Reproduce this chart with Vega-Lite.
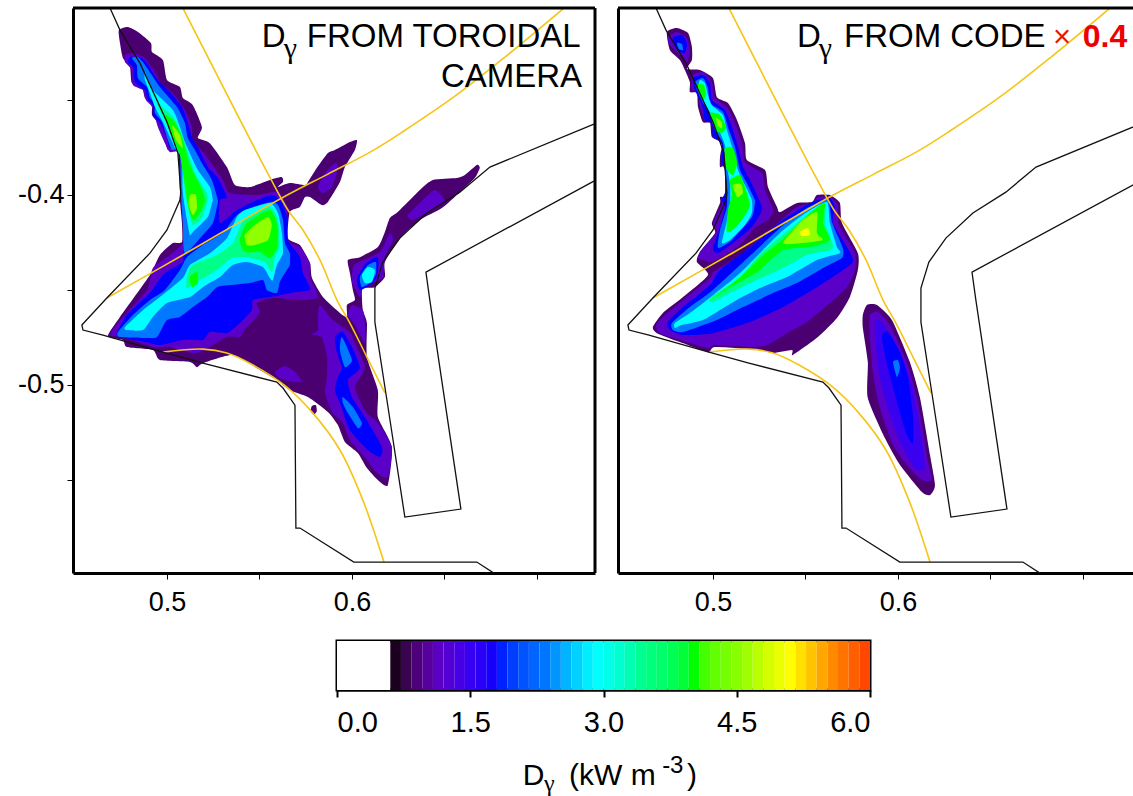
{"$schema":"https://vega.github.io/schema/vega-lite/v6.json","padding":{"left":17,"top":6,"right":0,"bottom":0},"background":"white","config":{"view":{"stroke":null},"font":"Liberation Sans","axis":{"grid":false,"title":null,"domainColor":"#000","domainWidth":3,"tickColor":"#000","tickWidth":1,"tickSize":6,"labelColor":"#000","labelFont":"Liberation Sans","labelFontSize":27,"labelPadding":10}},
"datasets":{
"left":[
{"part":"a","v":0.8,"r":0.474,"z":-0.3132},{"part":"a","v":0.8,"r":0.4789,"z":-0.3116},{"part":"a","v":0.8,"r":0.4843,"z":-0.3142},{"part":"a","v":0.8,"r":0.4913,"z":-0.32},{"part":"a","v":0.8,"r":0.4919,"z":-0.3248},{"part":"a","v":0.8,"r":0.4978,"z":-0.329},{"part":"a","v":0.8,"r":0.5,"z":-0.3395},{"part":"a","v":0.8,"r":0.507,"z":-0.3432},{"part":"a","v":0.8,"r":0.5086,"z":-0.349},{"part":"a","v":0.8,"r":0.514,"z":-0.3527},{"part":"a","v":0.8,"r":0.5189,"z":-0.3642},{"part":"a","v":0.8,"r":0.5167,"z":-0.37},{"part":"a","v":0.8,"r":0.5232,"z":-0.3727},{"part":"a","v":0.8,"r":0.5324,"z":-0.3853},{"part":"a","v":0.8,"r":0.5367,"z":-0.3948},{"part":"a","v":0.8,"r":0.5448,"z":-0.3958},{"part":"a","v":0.8,"r":0.5556,"z":-0.3921},{"part":"a","v":0.8,"r":0.5621,"z":-0.3906},{"part":"a","v":0.8,"r":0.5627,"z":-0.3932},{"part":"a","v":0.8,"r":0.56,"z":-0.3958},{"part":"a","v":0.8,"r":0.5664,"z":-0.3937},{"part":"a","v":0.8,"r":0.5746,"z":-0.3948},{"part":"a","v":0.8,"r":0.5762,"z":-0.3932},{"part":"a","v":0.8,"r":0.581,"z":-0.3858},{"part":"a","v":0.8,"r":0.587,"z":-0.3779},{"part":"a","v":0.8,"r":0.5908,"z":-0.3763},{"part":"a","v":0.8,"r":0.5989,"z":-0.3721},{"part":"a","v":0.8,"r":0.6027,"z":-0.3711},{"part":"a","v":0.8,"r":0.6016,"z":-0.3763},{"part":"a","v":0.8,"r":0.5962,"z":-0.3853},{"part":"a","v":0.8,"r":0.5935,"z":-0.3932},{"part":"a","v":0.8,"r":0.587,"z":-0.4037},{"part":"a","v":0.8,"r":0.5837,"z":-0.4053},{"part":"a","v":0.8,"r":0.5773,"z":-0.4011},{"part":"a","v":0.8,"r":0.5746,"z":-0.4011},{"part":"a","v":0.8,"r":0.5719,"z":-0.4063},{"part":"a","v":0.8,"r":0.5664,"z":-0.409},{"part":"a","v":0.8,"r":0.5654,"z":-0.4227},{"part":"a","v":0.8,"r":0.5719,"z":-0.4263},{"part":"a","v":0.8,"r":0.5773,"z":-0.4358},{"part":"a","v":0.8,"r":0.5784,"z":-0.4437},{"part":"a","v":0.8,"r":0.5843,"z":-0.4537},{"part":"a","v":0.8,"r":0.5935,"z":-0.4621},{"part":"a","v":0.8,"r":0.5973,"z":-0.4642},{"part":"a","v":0.8,"r":0.5973,"z":-0.4579},{"part":"a","v":0.8,"r":0.6016,"z":-0.4553},{"part":"a","v":0.8,"r":0.6005,"z":-0.45},{"part":"a","v":0.8,"r":0.5989,"z":-0.4411},{"part":"a","v":0.8,"r":0.5978,"z":-0.4342},{"part":"a","v":0.8,"r":0.6043,"z":-0.4327},{"part":"a","v":0.8,"r":0.614,"z":-0.4274},{"part":"a","v":0.8,"r":0.6178,"z":-0.4195},{"part":"a","v":0.8,"r":0.6205,"z":-0.4121},{"part":"a","v":0.8,"r":0.6248,"z":-0.409},{"part":"a","v":0.8,"r":0.6367,"z":-0.3974},{"part":"a","v":0.8,"r":0.6437,"z":-0.3921},{"part":"a","v":0.8,"r":0.6567,"z":-0.3911},{"part":"a","v":0.8,"r":0.661,"z":-0.3895},{"part":"a","v":0.8,"r":0.6675,"z":-0.3842},{"part":"a","v":0.8,"r":0.6691,"z":-0.3858},{"part":"a","v":0.8,"r":0.6664,"z":-0.3911},{"part":"a","v":0.8,"r":0.6583,"z":-0.3985},{"part":"a","v":0.8,"r":0.6486,"z":-0.4069},{"part":"a","v":0.8,"r":0.6367,"z":-0.4132},{"part":"a","v":0.8,"r":0.6259,"z":-0.4227},{"part":"a","v":0.8,"r":0.6178,"z":-0.4353},{"part":"a","v":0.8,"r":0.6178,"z":-0.4432},{"part":"a","v":0.8,"r":0.6124,"z":-0.4485},{"part":"a","v":0.8,"r":0.6059,"z":-0.449},{"part":"a","v":0.8,"r":0.6054,"z":-0.4537},{"part":"a","v":0.8,"r":0.6059,"z":-0.4606},{"part":"a","v":0.8,"r":0.6081,"z":-0.4674},{"part":"a","v":0.8,"r":0.6081,"z":-0.4853},{"part":"a","v":0.8,"r":0.614,"z":-0.5027},{"part":"a","v":0.8,"r":0.614,"z":-0.5169},{"part":"a","v":0.8,"r":0.6216,"z":-0.5327},{"part":"a","v":0.8,"r":0.6194,"z":-0.5527},{"part":"a","v":0.8,"r":0.614,"z":-0.55},{"part":"a","v":0.8,"r":0.6081,"z":-0.5437},{"part":"a","v":0.8,"r":0.6032,"z":-0.5358},{"part":"a","v":0.8,"r":0.5962,"z":-0.53},{"part":"a","v":0.8,"r":0.5924,"z":-0.5211},{"part":"a","v":0.8,"r":0.587,"z":-0.5142},{"part":"a","v":0.8,"r":0.5762,"z":-0.5063},{"part":"a","v":0.8,"r":0.5664,"z":-0.5027},{"part":"a","v":0.8,"r":0.5594,"z":-0.4974},{"part":"a","v":0.8,"r":0.5502,"z":-0.4921},{"part":"a","v":0.8,"r":0.5356,"z":-0.4842},{"part":"a","v":0.8,"r":0.5194,"z":-0.4885},{"part":"a","v":0.8,"r":0.5162,"z":-0.4906},{"part":"a","v":0.8,"r":0.5124,"z":-0.4879},{"part":"a","v":0.8,"r":0.4962,"z":-0.4869},{"part":"a","v":0.8,"r":0.4924,"z":-0.4816},{"part":"a","v":0.8,"r":0.4783,"z":-0.48},{"part":"a","v":0.8,"r":0.4762,"z":-0.4763},{"part":"a","v":0.8,"r":0.4681,"z":-0.4742},{"part":"a","v":0.8,"r":0.4746,"z":-0.4642},{"part":"a","v":0.8,"r":0.4908,"z":-0.4421},{"part":"a","v":0.8,"r":0.4962,"z":-0.4316},{"part":"a","v":0.8,"r":0.5032,"z":-0.4253},{"part":"a","v":0.8,"r":0.5081,"z":-0.4248},{"part":"a","v":0.8,"r":0.5081,"z":-0.4148},{"part":"a","v":0.8,"r":0.507,"z":-0.4027},{"part":"a","v":0.8,"r":0.507,"z":-0.3974},{"part":"a","v":0.8,"r":0.5059,"z":-0.3779},{"part":"a","v":0.8,"r":0.5005,"z":-0.3763},{"part":"a","v":0.8,"r":0.4989,"z":-0.3711},{"part":"a","v":0.8,"r":0.4951,"z":-0.3621},{"part":"a","v":0.8,"r":0.4919,"z":-0.3579},{"part":"a","v":0.8,"r":0.4919,"z":-0.3516},{"part":"a","v":0.8,"r":0.4881,"z":-0.349},{"part":"a","v":0.8,"r":0.4865,"z":-0.3432},{"part":"a","v":0.8,"r":0.481,"z":-0.3411},{"part":"a","v":0.8,"r":0.48,"z":-0.3327},{"part":"a","v":0.8,"r":0.4762,"z":-0.3279},{"part":"a","v":0.8,"r":0.4746,"z":-0.32},
{"part":"i","v":0.8,"r":0.5783,"z":-0.5111},{"part":"i","v":0.8,"r":0.5805,"z":-0.5106},{"part":"i","v":0.8,"r":0.581,"z":-0.5137},{"part":"i","v":0.8,"r":0.5794,"z":-0.5158},{"part":"i","v":0.8,"r":0.5778,"z":-0.5137},
{"part":"b","v":1.1,"r":0.4773,"z":-0.3263},{"part":"b","v":1.1,"r":0.4816,"z":-0.3253},{"part":"b","v":1.1,"r":0.4881,"z":-0.3279},{"part":"b","v":1.1,"r":0.4946,"z":-0.3369},{"part":"b","v":1.1,"r":0.4962,"z":-0.3406},{"part":"b","v":1.1,"r":0.5032,"z":-0.3463},{"part":"b","v":1.1,"r":0.5097,"z":-0.3553},{"part":"b","v":1.1,"r":0.5135,"z":-0.3642},{"part":"b","v":1.1,"r":0.514,"z":-0.3711},{"part":"b","v":1.1,"r":0.5216,"z":-0.38},{"part":"b","v":1.1,"r":0.5302,"z":-0.3921},{"part":"b","v":1.1,"r":0.534,"z":-0.399},{"part":"b","v":1.1,"r":0.5486,"z":-0.4},{"part":"b","v":1.1,"r":0.5573,"z":-0.3984},{"part":"b","v":1.1,"r":0.561,"z":-0.399},{"part":"b","v":1.1,"r":0.5648,"z":-0.4063},{"part":"b","v":1.1,"r":0.5654,"z":-0.4237},{"part":"b","v":1.1,"r":0.5719,"z":-0.4274},{"part":"b","v":1.1,"r":0.5773,"z":-0.4358},{"part":"b","v":1.1,"r":0.5773,"z":-0.4432},{"part":"b","v":1.1,"r":0.5816,"z":-0.4537},{"part":"b","v":1.1,"r":0.5735,"z":-0.4553},{"part":"b","v":1.1,"r":0.5573,"z":-0.4542},{"part":"b","v":1.1,"r":0.5486,"z":-0.4569},{"part":"b","v":1.1,"r":0.5502,"z":-0.4621},{"part":"b","v":1.1,"r":0.5432,"z":-0.4695},{"part":"b","v":1.1,"r":0.5394,"z":-0.4748},{"part":"b","v":1.1,"r":0.5324,"z":-0.4748},{"part":"b","v":1.1,"r":0.5162,"z":-0.4832},{"part":"b","v":1.1,"r":0.5016,"z":-0.48},{"part":"b","v":1.1,"r":0.4924,"z":-0.48},{"part":"b","v":1.1,"r":0.4762,"z":-0.4748},{"part":"b","v":1.1,"r":0.4692,"z":-0.4737},{"part":"b","v":1.1,"r":0.4756,"z":-0.4648},{"part":"b","v":1.1,"r":0.4892,"z":-0.45},{"part":"b","v":1.1,"r":0.4924,"z":-0.4384},{"part":"b","v":1.1,"r":0.5016,"z":-0.4316},{"part":"b","v":1.1,"r":0.5086,"z":-0.4253},{"part":"b","v":1.1,"r":0.5086,"z":-0.4148},{"part":"b","v":1.1,"r":0.5075,"z":-0.3974},{"part":"b","v":1.1,"r":0.507,"z":-0.3779},{"part":"b","v":1.1,"r":0.5016,"z":-0.3774},{"part":"b","v":1.1,"r":0.4989,"z":-0.3727},{"part":"b","v":1.1,"r":0.4951,"z":-0.3642},{"part":"b","v":1.1,"r":0.4919,"z":-0.3537},{"part":"b","v":1.1,"r":0.4886,"z":-0.35},{"part":"b","v":1.1,"r":0.487,"z":-0.3448},{"part":"b","v":1.1,"r":0.4816,"z":-0.3421},{"part":"b","v":1.1,"r":0.481,"z":-0.3342},{"part":"b","v":1.1,"r":0.4773,"z":-0.33},
{"part":"c","v":1.1,"r":0.5827,"z":-0.4579},{"part":"c","v":1.1,"r":0.5897,"z":-0.4658},{"part":"c","v":1.1,"r":0.5989,"z":-0.4721},{"part":"c","v":1.1,"r":0.6016,"z":-0.4779},{"part":"c","v":1.1,"r":0.607,"z":-0.4906},{"part":"c","v":1.1,"r":0.6016,"z":-0.5011},{"part":"c","v":1.1,"r":0.6043,"z":-0.5079},{"part":"c","v":1.1,"r":0.6081,"z":-0.5148},{"part":"c","v":1.1,"r":0.614,"z":-0.52},{"part":"c","v":1.1,"r":0.6216,"z":-0.5327},{"part":"c","v":1.1,"r":0.6194,"z":-0.5485},{"part":"c","v":1.1,"r":0.6135,"z":-0.5463},{"part":"c","v":1.1,"r":0.6081,"z":-0.5395},{"part":"c","v":1.1,"r":0.5989,"z":-0.529},{"part":"c","v":1.1,"r":0.5951,"z":-0.52},{"part":"c","v":1.1,"r":0.5897,"z":-0.5148},{"part":"c","v":1.1,"r":0.5854,"z":-0.5042},{"part":"c","v":1.1,"r":0.5865,"z":-0.4958},{"part":"c","v":1.1,"r":0.5865,"z":-0.4853},{"part":"c","v":1.1,"r":0.5837,"z":-0.4748},{"part":"c","v":1.1,"r":0.5783,"z":-0.4737},{"part":"c","v":1.1,"r":0.5816,"z":-0.4711},{"part":"c","v":1.1,"r":0.5816,"z":-0.4642},
{"part":"d","v":1.1,"r":0.6,"z":-0.4579},{"part":"d","v":1.1,"r":0.6059,"z":-0.4606},{"part":"d","v":1.1,"r":0.607,"z":-0.4674},{"part":"d","v":1.1,"r":0.607,"z":-0.4779},{"part":"d","v":1.1,"r":0.6016,"z":-0.4684},{"part":"d","v":1.1,"r":0.5978,"z":-0.4632},
{"part":"e","v":1.1,"r":0.5583,"z":-0.4932},{"part":"e","v":1.1,"r":0.5638,"z":-0.49},{"part":"e","v":1.1,"r":0.5692,"z":-0.4932},{"part":"e","v":1.1,"r":0.5729,"z":-0.4985},{"part":"e","v":1.1,"r":0.5664,"z":-0.4979},{"part":"e","v":1.1,"r":0.561,"z":-0.4963},
{"part":"f","v":1.1,"r":0.5816,"z":-0.3958},{"part":"f","v":1.1,"r":0.5854,"z":-0.3885},{"part":"f","v":1.1,"r":0.5908,"z":-0.3832},{"part":"f","v":1.1,"r":0.5924,"z":-0.3858},{"part":"f","v":1.1,"r":0.5892,"z":-0.3958},{"part":"f","v":1.1,"r":0.5843,"z":-0.399},
{"part":"g","v":1.1,"r":0.6302,"z":-0.4106},{"part":"g","v":1.1,"r":0.6367,"z":-0.4042},{"part":"g","v":1.1,"r":0.6448,"z":-0.3974},{"part":"g","v":1.1,"r":0.6502,"z":-0.4037},{"part":"g","v":1.1,"r":0.6383,"z":-0.4106},{"part":"g","v":1.1,"r":0.6324,"z":-0.4132},
{"part":"h","v":1.1,"r":0.6027,"z":-0.4358},{"part":"h","v":1.1,"r":0.6151,"z":-0.43},{"part":"h","v":1.1,"r":0.6205,"z":-0.42},{"part":"h","v":1.1,"r":0.6221,"z":-0.4237},{"part":"h","v":1.1,"r":0.6178,"z":-0.4327},{"part":"h","v":1.1,"r":0.6167,"z":-0.4432},{"part":"h","v":1.1,"r":0.6124,"z":-0.4458},{"part":"h","v":1.1,"r":0.6059,"z":-0.449},{"part":"h","v":1.1,"r":0.6043,"z":-0.4537},{"part":"h","v":1.1,"r":0.6,"z":-0.4458},{"part":"h","v":1.1,"r":0.6005,"z":-0.4379},
{"part":"j","v":1.74,"r":0.48,"z":-0.3274},{"part":"j","v":1.74,"r":0.4854,"z":-0.3274},{"part":"j","v":1.74,"r":0.4892,"z":-0.3306},{"part":"j","v":1.74,"r":0.4951,"z":-0.3395},{"part":"j","v":1.74,"r":0.5016,"z":-0.3458},{"part":"j","v":1.74,"r":0.5081,"z":-0.3537},{"part":"j","v":1.74,"r":0.5113,"z":-0.3621},{"part":"j","v":1.74,"r":0.5135,"z":-0.3695},{"part":"j","v":1.74,"r":0.5167,"z":-0.3748},{"part":"j","v":1.74,"r":0.5221,"z":-0.3853},{"part":"j","v":1.74,"r":0.5275,"z":-0.3911},{"part":"j","v":1.74,"r":0.5324,"z":-0.4011},{"part":"j","v":1.74,"r":0.5286,"z":-0.4027},{"part":"j","v":1.74,"r":0.5286,"z":-0.4148},{"part":"j","v":1.74,"r":0.5378,"z":-0.4079},{"part":"j","v":1.74,"r":0.5486,"z":-0.4027},{"part":"j","v":1.74,"r":0.5573,"z":-0.4},{"part":"j","v":1.74,"r":0.5621,"z":-0.4042},{"part":"j","v":1.74,"r":0.5648,"z":-0.4116},{"part":"j","v":1.74,"r":0.5654,"z":-0.4237},{"part":"j","v":1.74,"r":0.5719,"z":-0.4327},{"part":"j","v":1.74,"r":0.5735,"z":-0.4411},{"part":"j","v":1.74,"r":0.5762,"z":-0.4463},{"part":"j","v":1.74,"r":0.5773,"z":-0.45},{"part":"j","v":1.74,"r":0.5702,"z":-0.4511},{"part":"j","v":1.74,"r":0.561,"z":-0.4527},{"part":"j","v":1.74,"r":0.5556,"z":-0.4537},{"part":"j","v":1.74,"r":0.5465,"z":-0.4553},{"part":"j","v":1.74,"r":0.5459,"z":-0.4606},{"part":"j","v":1.74,"r":0.5394,"z":-0.4674},{"part":"j","v":1.74,"r":0.5324,"z":-0.4727},{"part":"j","v":1.74,"r":0.5232,"z":-0.4721},{"part":"j","v":1.74,"r":0.5194,"z":-0.4763},{"part":"j","v":1.74,"r":0.5086,"z":-0.4763},{"part":"j","v":1.74,"r":0.4962,"z":-0.479},{"part":"j","v":1.74,"r":0.4881,"z":-0.4774},{"part":"j","v":1.74,"r":0.4746,"z":-0.4748},{"part":"j","v":1.74,"r":0.4729,"z":-0.4727},{"part":"j","v":1.74,"r":0.4783,"z":-0.4632},{"part":"j","v":1.74,"r":0.4908,"z":-0.4516},{"part":"j","v":1.74,"r":0.4978,"z":-0.4421},{"part":"j","v":1.74,"r":0.5086,"z":-0.4353},{"part":"j","v":1.74,"r":0.5086,"z":-0.4306},{"part":"j","v":1.74,"r":0.5108,"z":-0.4253},{"part":"j","v":1.74,"r":0.5097,"z":-0.4148},{"part":"j","v":1.74,"r":0.5086,"z":-0.3974},{"part":"j","v":1.74,"r":0.507,"z":-0.3779},{"part":"j","v":1.74,"r":0.5016,"z":-0.3753},{"part":"j","v":1.74,"r":0.5,"z":-0.37},{"part":"j","v":1.74,"r":0.4962,"z":-0.3621},{"part":"j","v":1.74,"r":0.4924,"z":-0.3579},{"part":"j","v":1.74,"r":0.4924,"z":-0.3527},{"part":"j","v":1.74,"r":0.4897,"z":-0.35},{"part":"j","v":1.74,"r":0.4881,"z":-0.3448},{"part":"j","v":1.74,"r":0.4827,"z":-0.3406},{"part":"j","v":1.74,"r":0.4816,"z":-0.3327},{"part":"j","v":1.74,"r":0.4789,"z":-0.33},
{"part":"k","v":1.74,"r":0.5908,"z":-0.4748},{"part":"k","v":1.74,"r":0.5951,"z":-0.4721},{"part":"k","v":1.74,"r":0.6,"z":-0.48},{"part":"k","v":1.74,"r":0.6043,"z":-0.4911},{"part":"k","v":1.74,"r":0.5978,"z":-0.4974},{"part":"k","v":1.74,"r":0.6,"z":-0.5063},{"part":"k","v":1.74,"r":0.607,"z":-0.5169},{"part":"k","v":1.74,"r":0.6162,"z":-0.5327},{"part":"k","v":1.74,"r":0.6151,"z":-0.5379},{"part":"k","v":1.74,"r":0.6086,"z":-0.5342},{"part":"k","v":1.74,"r":0.5989,"z":-0.5237},{"part":"k","v":1.74,"r":0.5935,"z":-0.5095},{"part":"k","v":1.74,"r":0.5908,"z":-0.5027},{"part":"k","v":1.74,"r":0.5924,"z":-0.4958},{"part":"k","v":1.74,"r":0.5946,"z":-0.4911},{"part":"k","v":1.74,"r":0.5919,"z":-0.4832},
{"part":"l","v":1.74,"r":0.6027,"z":-0.4437},{"part":"l","v":1.74,"r":0.6081,"z":-0.4353},{"part":"l","v":1.74,"r":0.614,"z":-0.4327},{"part":"l","v":1.74,"r":0.614,"z":-0.4411},{"part":"l","v":1.74,"r":0.6113,"z":-0.4463},{"part":"l","v":1.74,"r":0.6043,"z":-0.45},
{"part":"m","v":2.3,"r":0.481,"z":-0.3279},{"part":"m","v":2.3,"r":0.4843,"z":-0.3274},{"part":"m","v":2.3,"r":0.4881,"z":-0.3316},{"part":"m","v":2.3,"r":0.4962,"z":-0.3432},{"part":"m","v":2.3,"r":0.5054,"z":-0.3537},{"part":"m","v":2.3,"r":0.5097,"z":-0.3621},{"part":"m","v":2.3,"r":0.5113,"z":-0.37},{"part":"m","v":2.3,"r":0.5151,"z":-0.3763},{"part":"m","v":2.3,"r":0.5189,"z":-0.3832},{"part":"m","v":2.3,"r":0.5243,"z":-0.3921},{"part":"m","v":2.3,"r":0.5275,"z":-0.4027},{"part":"m","v":2.3,"r":0.527,"z":-0.4063},{"part":"m","v":2.3,"r":0.5248,"z":-0.4148},{"part":"m","v":2.3,"r":0.5194,"z":-0.4211},{"part":"m","v":2.3,"r":0.5097,"z":-0.4306},{"part":"m","v":2.3,"r":0.5086,"z":-0.4148},{"part":"m","v":2.3,"r":0.5075,"z":-0.3974},{"part":"m","v":2.3,"r":0.507,"z":-0.3763},{"part":"m","v":2.3,"r":0.5027,"z":-0.3763},{"part":"m","v":2.3,"r":0.5005,"z":-0.3711},{"part":"m","v":2.3,"r":0.4973,"z":-0.3616},{"part":"m","v":2.3,"r":0.4935,"z":-0.3569},{"part":"m","v":2.3,"r":0.4935,"z":-0.3516},{"part":"m","v":2.3,"r":0.4908,"z":-0.349},{"part":"m","v":2.3,"r":0.4892,"z":-0.3432},{"part":"m","v":2.3,"r":0.4843,"z":-0.3385},{"part":"m","v":2.3,"r":0.4837,"z":-0.3316},
{"part":"n","v":2.3,"r":0.5356,"z":-0.4132},{"part":"n","v":2.3,"r":0.5394,"z":-0.4095},{"part":"n","v":2.3,"r":0.5556,"z":-0.4037},{"part":"n","v":2.3,"r":0.56,"z":-0.4053},{"part":"n","v":2.3,"r":0.5627,"z":-0.4132},{"part":"n","v":2.3,"r":0.5638,"z":-0.4253},{"part":"n","v":2.3,"r":0.5664,"z":-0.4306},{"part":"n","v":2.3,"r":0.5664,"z":-0.4369},{"part":"n","v":2.3,"r":0.5638,"z":-0.4411},{"part":"n","v":2.3,"r":0.561,"z":-0.4458},{"part":"n","v":2.3,"r":0.5594,"z":-0.4516},{"part":"n","v":2.3,"r":0.554,"z":-0.45},{"part":"n","v":2.3,"r":0.5519,"z":-0.4448},{"part":"n","v":2.3,"r":0.5448,"z":-0.4463},{"part":"n","v":2.3,"r":0.534,"z":-0.4474},{"part":"n","v":2.3,"r":0.527,"z":-0.4485},{"part":"n","v":2.3,"r":0.5216,"z":-0.4537},{"part":"n","v":2.3,"r":0.514,"z":-0.459},{"part":"n","v":2.3,"r":0.507,"z":-0.4642},{"part":"n","v":2.3,"r":0.5,"z":-0.4658},{"part":"n","v":2.3,"r":0.4946,"z":-0.4748},{"part":"n","v":2.3,"r":0.4892,"z":-0.4753},{"part":"n","v":2.3,"r":0.4746,"z":-0.4748},{"part":"n","v":2.3,"r":0.4735,"z":-0.4721},{"part":"n","v":2.3,"r":0.4816,"z":-0.4632},{"part":"n","v":2.3,"r":0.4908,"z":-0.4553},{"part":"n","v":2.3,"r":0.4989,"z":-0.45},{"part":"n","v":2.3,"r":0.507,"z":-0.4395},{"part":"n","v":2.3,"r":0.5108,"z":-0.4327},{"part":"n","v":2.3,"r":0.5194,"z":-0.4263},{"part":"n","v":2.3,"r":0.5302,"z":-0.42},
{"part":"o","v":2.3,"r":0.5946,"z":-0.4748},{"part":"o","v":2.3,"r":0.6,"z":-0.4869},{"part":"o","v":2.3,"r":0.5962,"z":-0.4906},{"part":"o","v":2.3,"r":0.5935,"z":-0.4816},
{"part":"p","v":2.3,"r":0.5951,"z":-0.5063},{"part":"p","v":2.3,"r":0.6005,"z":-0.5116},{"part":"p","v":2.3,"r":0.6054,"z":-0.52},{"part":"p","v":2.3,"r":0.6032,"z":-0.5227},{"part":"p","v":2.3,"r":0.5978,"z":-0.5148},{"part":"p","v":2.3,"r":0.5951,"z":-0.5095},
{"part":"l2","v":2.3,"r":0.6043,"z":-0.4432},{"part":"l2","v":2.3,"r":0.6086,"z":-0.4369},{"part":"l2","v":2.3,"r":0.6129,"z":-0.4353},{"part":"l2","v":2.3,"r":0.6129,"z":-0.4416},{"part":"l2","v":2.3,"r":0.6102,"z":-0.4458},{"part":"l2","v":2.3,"r":0.6054,"z":-0.4485},
{"part":"l3","v":2.85,"r":0.6054,"z":-0.4421},{"part":"l3","v":2.85,"r":0.6086,"z":-0.4379},{"part":"l3","v":2.85,"r":0.6124,"z":-0.4395},{"part":"l3","v":2.85,"r":0.6108,"z":-0.4458},{"part":"l3","v":2.85,"r":0.607,"z":-0.4463},
{"part":"q","v":2.85,"r":0.4881,"z":-0.3353},{"part":"q","v":2.85,"r":0.4924,"z":-0.3448},{"part":"q","v":2.85,"r":0.5032,"z":-0.3553},{"part":"q","v":2.85,"r":0.507,"z":-0.3642},{"part":"q","v":2.85,"r":0.5097,"z":-0.3721},{"part":"q","v":2.85,"r":0.5167,"z":-0.3869},{"part":"q","v":2.85,"r":0.5232,"z":-0.3958},{"part":"q","v":2.85,"r":0.5248,"z":-0.4027},{"part":"q","v":2.85,"r":0.5243,"z":-0.4042},{"part":"q","v":2.85,"r":0.5221,"z":-0.4116},{"part":"q","v":2.85,"r":0.514,"z":-0.4195},{"part":"q","v":2.85,"r":0.5124,"z":-0.4211},{"part":"q","v":2.85,"r":0.5108,"z":-0.4132},{"part":"q","v":2.85,"r":0.5086,"z":-0.399},{"part":"q","v":2.85,"r":0.5081,"z":-0.38},{"part":"q","v":2.85,"r":0.5054,"z":-0.3774},{"part":"q","v":2.85,"r":0.5016,"z":-0.3695},{"part":"q","v":2.85,"r":0.4978,"z":-0.3616},{"part":"q","v":2.85,"r":0.4935,"z":-0.3537},{"part":"q","v":2.85,"r":0.4908,"z":-0.3463},{"part":"q","v":2.85,"r":0.4881,"z":-0.3395},
{"part":"r","v":2.85,"r":0.5378,"z":-0.4116},{"part":"r","v":2.85,"r":0.5421,"z":-0.4079},{"part":"r","v":2.85,"r":0.5556,"z":-0.4042},{"part":"r","v":2.85,"r":0.56,"z":-0.4095},{"part":"r","v":2.85,"r":0.5621,"z":-0.42},{"part":"r","v":2.85,"r":0.5627,"z":-0.4306},{"part":"r","v":2.85,"r":0.5594,"z":-0.4369},{"part":"r","v":2.85,"r":0.5573,"z":-0.4448},{"part":"r","v":2.85,"r":0.5556,"z":-0.4437},{"part":"r","v":2.85,"r":0.5519,"z":-0.4379},{"part":"r","v":2.85,"r":0.5432,"z":-0.4353},{"part":"r","v":2.85,"r":0.5356,"z":-0.4369},{"part":"r","v":2.85,"r":0.5286,"z":-0.4432},{"part":"r","v":2.85,"r":0.5194,"z":-0.4485},{"part":"r","v":2.85,"r":0.5124,"z":-0.4537},{"part":"r","v":2.85,"r":0.5,"z":-0.4569},{"part":"r","v":2.85,"r":0.4924,"z":-0.4642},{"part":"r","v":2.85,"r":0.487,"z":-0.4711},{"part":"r","v":2.85,"r":0.4783,"z":-0.4711},{"part":"r","v":2.85,"r":0.4773,"z":-0.4695},{"part":"r","v":2.85,"r":0.487,"z":-0.4606},{"part":"r","v":2.85,"r":0.4962,"z":-0.4537},{"part":"r","v":2.85,"r":0.5086,"z":-0.4437},{"part":"r","v":2.85,"r":0.5124,"z":-0.4369},{"part":"r","v":2.85,"r":0.5232,"z":-0.4306},{"part":"r","v":2.85,"r":0.5324,"z":-0.4227},
{"part":"s","v":3.4,"r":0.4946,"z":-0.3516},{"part":"s","v":3.4,"r":0.5032,"z":-0.359},{"part":"s","v":3.4,"r":0.5086,"z":-0.3695},{"part":"s","v":3.4,"r":0.5151,"z":-0.3885},{"part":"s","v":3.4,"r":0.5216,"z":-0.399},{"part":"s","v":3.4,"r":0.5216,"z":-0.4042},{"part":"s","v":3.4,"r":0.5189,"z":-0.4116},{"part":"s","v":3.4,"r":0.514,"z":-0.4158},{"part":"s","v":3.4,"r":0.5113,"z":-0.4063},{"part":"s","v":3.4,"r":0.5097,"z":-0.3974},{"part":"s","v":3.4,"r":0.5081,"z":-0.3816},{"part":"s","v":3.4,"r":0.5032,"z":-0.3695},{"part":"s","v":3.4,"r":0.4978,"z":-0.359},
{"part":"t","v":3.4,"r":0.5394,"z":-0.4169},{"part":"t","v":3.4,"r":0.5432,"z":-0.4116},{"part":"t","v":3.4,"r":0.5556,"z":-0.4063},{"part":"t","v":3.4,"r":0.56,"z":-0.4132},{"part":"t","v":3.4,"r":0.5605,"z":-0.4274},{"part":"t","v":3.4,"r":0.5583,"z":-0.4327},{"part":"t","v":3.4,"r":0.5567,"z":-0.4406},{"part":"t","v":3.4,"r":0.5529,"z":-0.4353},{"part":"t","v":3.4,"r":0.5432,"z":-0.4327},{"part":"t","v":3.4,"r":0.5351,"z":-0.4332},{"part":"t","v":3.4,"r":0.527,"z":-0.4395},{"part":"t","v":3.4,"r":0.5178,"z":-0.4448},{"part":"t","v":3.4,"r":0.5108,"z":-0.449},{"part":"t","v":3.4,"r":0.5108,"z":-0.4432},{"part":"t","v":3.4,"r":0.514,"z":-0.4369},{"part":"t","v":3.4,"r":0.527,"z":-0.4316},{"part":"t","v":3.4,"r":0.5356,"z":-0.4253},
{"part":"u","v":3.96,"r":0.4989,"z":-0.3579},{"part":"u","v":3.96,"r":0.5043,"z":-0.3616},{"part":"u","v":3.96,"r":0.5086,"z":-0.3711},{"part":"u","v":3.96,"r":0.5124,"z":-0.3842},{"part":"u","v":3.96,"r":0.5178,"z":-0.3948},{"part":"u","v":3.96,"r":0.5205,"z":-0.4027},{"part":"u","v":3.96,"r":0.5178,"z":-0.4095},{"part":"u","v":3.96,"r":0.514,"z":-0.4132},{"part":"u","v":3.96,"r":0.5113,"z":-0.4053},{"part":"u","v":3.96,"r":0.5097,"z":-0.3948},{"part":"u","v":3.96,"r":0.507,"z":-0.379},{"part":"u","v":3.96,"r":0.5027,"z":-0.3685},
{"part":"v","v":3.96,"r":0.5394,"z":-0.4237},{"part":"v","v":3.96,"r":0.5432,"z":-0.4148},{"part":"v","v":3.96,"r":0.5556,"z":-0.4079},{"part":"v","v":3.96,"r":0.56,"z":-0.4169},{"part":"v","v":3.96,"r":0.5594,"z":-0.4279},{"part":"v","v":3.96,"r":0.5556,"z":-0.4332},{"part":"v","v":3.96,"r":0.5502,"z":-0.43},{"part":"v","v":3.96,"r":0.5421,"z":-0.43},
{"part":"w","v":3.96,"r":0.5124,"z":-0.4432},{"part":"w","v":3.96,"r":0.5162,"z":-0.4406},{"part":"w","v":3.96,"r":0.5167,"z":-0.4463},{"part":"w","v":3.96,"r":0.5135,"z":-0.4485},
{"part":"x","v":4.5,"r":0.5027,"z":-0.3632},{"part":"x","v":4.5,"r":0.507,"z":-0.3685},{"part":"x","v":4.5,"r":0.5086,"z":-0.3753},{"part":"x","v":4.5,"r":0.5048,"z":-0.3711},
{"part":"y","v":4.5,"r":0.5124,"z":-0.4},{"part":"y","v":4.5,"r":0.5156,"z":-0.4},{"part":"y","v":4.5,"r":0.5162,"z":-0.4069},{"part":"y","v":4.5,"r":0.514,"z":-0.4106},{"part":"y","v":4.5,"r":0.5118,"z":-0.4053},
{"part":"z","v":4.5,"r":0.5421,"z":-0.4211},{"part":"z","v":4.5,"r":0.5475,"z":-0.4158},{"part":"z","v":4.5,"r":0.5546,"z":-0.4116},{"part":"z","v":4.5,"r":0.5567,"z":-0.4158},{"part":"z","v":4.5,"r":0.5546,"z":-0.4237},{"part":"z","v":4.5,"r":0.5475,"z":-0.4263},{"part":"z","v":4.5,"r":0.5432,"z":-0.4263}
],
"right":[
{"part":"a","v":0.8,"r":0.4751,"z":-0.3142},{"part":"a","v":0.8,"r":0.4805,"z":-0.3121},{"part":"a","v":0.8,"r":0.4865,"z":-0.3148},{"part":"a","v":0.8,"r":0.4886,"z":-0.3221},{"part":"a","v":0.8,"r":0.4886,"z":-0.329},{"part":"a","v":0.8,"r":0.4859,"z":-0.3337},{"part":"a","v":0.8,"r":0.4929,"z":-0.3342},{"part":"a","v":0.8,"r":0.5,"z":-0.3385},{"part":"a","v":0.8,"r":0.5021,"z":-0.3485},{"part":"a","v":0.8,"r":0.5081,"z":-0.3516},{"part":"a","v":0.8,"r":0.513,"z":-0.3606},{"part":"a","v":0.8,"r":0.5173,"z":-0.3727},{"part":"a","v":0.8,"r":0.5183,"z":-0.3816},{"part":"a","v":0.8,"r":0.5281,"z":-0.3869},{"part":"a","v":0.8,"r":0.5297,"z":-0.3958},{"part":"a","v":0.8,"r":0.5346,"z":-0.4063},{"part":"a","v":0.8,"r":0.5362,"z":-0.409},{"part":"a","v":0.8,"r":0.5454,"z":-0.4042},{"part":"a","v":0.8,"r":0.5535,"z":-0.4037},{"part":"a","v":0.8,"r":0.5562,"z":-0.4},{"part":"a","v":0.8,"r":0.5632,"z":-0.4},{"part":"a","v":0.8,"r":0.5686,"z":-0.4042},{"part":"a","v":0.8,"r":0.5697,"z":-0.4148},{"part":"a","v":0.8,"r":0.5783,"z":-0.4306},{"part":"a","v":0.8,"r":0.5783,"z":-0.4395},{"part":"a","v":0.8,"r":0.574,"z":-0.4537},{"part":"a","v":0.8,"r":0.567,"z":-0.4648},{"part":"a","v":0.8,"r":0.5567,"z":-0.4748},{"part":"a","v":0.8,"r":0.5432,"z":-0.4842},{"part":"a","v":0.8,"r":0.5427,"z":-0.4816},{"part":"a","v":0.8,"r":0.5324,"z":-0.4832},{"part":"a","v":0.8,"r":0.5254,"z":-0.4816},{"part":"a","v":0.8,"r":0.5011,"z":-0.48},{"part":"a","v":0.8,"r":0.4973,"z":-0.4827},{"part":"a","v":0.8,"r":0.4821,"z":-0.4774},{"part":"a","v":0.8,"r":0.4697,"z":-0.4727},{"part":"a","v":0.8,"r":0.4675,"z":-0.4695},{"part":"a","v":0.8,"r":0.4729,"z":-0.4621},{"part":"a","v":0.8,"r":0.4838,"z":-0.4537},{"part":"a","v":0.8,"r":0.4973,"z":-0.4421},{"part":"a","v":0.8,"r":0.4913,"z":-0.4353},{"part":"a","v":0.8,"r":0.4929,"z":-0.43},{"part":"a","v":0.8,"r":0.5011,"z":-0.42},{"part":"a","v":0.8,"r":0.4994,"z":-0.4148},{"part":"a","v":0.8,"r":0.5038,"z":-0.4042},{"part":"a","v":0.8,"r":0.5038,"z":-0.4011},{"part":"a","v":0.8,"r":0.5064,"z":-0.4},{"part":"a","v":0.8,"r":0.5064,"z":-0.3853},{"part":"a","v":0.8,"r":0.5038,"z":-0.3853},{"part":"a","v":0.8,"r":0.5038,"z":-0.38},{"part":"a","v":0.8,"r":0.5048,"z":-0.3727},{"part":"a","v":0.8,"r":0.4994,"z":-0.3695},{"part":"a","v":0.8,"r":0.4984,"z":-0.3621},{"part":"a","v":0.8,"r":0.4945,"z":-0.3616},{"part":"a","v":0.8,"r":0.4919,"z":-0.3537},{"part":"a","v":0.8,"r":0.4913,"z":-0.3463},{"part":"a","v":0.8,"r":0.4875,"z":-0.3458},{"part":"a","v":0.8,"r":0.4875,"z":-0.3406},{"part":"a","v":0.8,"r":0.4848,"z":-0.3342},{"part":"a","v":0.8,"r":0.4821,"z":-0.329},{"part":"a","v":0.8,"r":0.4767,"z":-0.3237},
{"part":"a2","v":0.8,"r":0.581,"z":-0.4632},{"part":"a2","v":0.8,"r":0.5832,"z":-0.4579},{"part":"a2","v":0.8,"r":0.5886,"z":-0.4579},{"part":"a2","v":0.8,"r":0.5967,"z":-0.4658},{"part":"a2","v":0.8,"r":0.6064,"z":-0.4879},{"part":"a2","v":0.8,"r":0.6119,"z":-0.5069},{"part":"a2","v":0.8,"r":0.6173,"z":-0.5369},{"part":"a2","v":0.8,"r":0.62,"z":-0.5527},{"part":"a2","v":0.8,"r":0.6173,"z":-0.5579},{"part":"a2","v":0.8,"r":0.6129,"z":-0.5563},{"part":"a2","v":0.8,"r":0.6011,"z":-0.5421},{"part":"a2","v":0.8,"r":0.5929,"z":-0.5279},{"part":"a2","v":0.8,"r":0.5837,"z":-0.5069},{"part":"a2","v":0.8,"r":0.5837,"z":-0.4879},{"part":"a2","v":0.8,"r":0.581,"z":-0.47},
{"part":"b","v":1.1,"r":0.4692,"z":-0.4685},{"part":"b","v":1.1,"r":0.474,"z":-0.4632},{"part":"b","v":1.1,"r":0.4838,"z":-0.4553},{"part":"b","v":1.1,"r":0.4984,"z":-0.4437},{"part":"b","v":1.1,"r":0.5,"z":-0.4406},{"part":"b","v":1.1,"r":0.5146,"z":-0.4316},{"part":"b","v":1.1,"r":0.5324,"z":-0.4169},{"part":"b","v":1.1,"r":0.5454,"z":-0.4063},{"part":"b","v":1.1,"r":0.554,"z":-0.4042},{"part":"b","v":1.1,"r":0.5567,"z":-0.4011},{"part":"b","v":1.1,"r":0.5632,"z":-0.4011},{"part":"b","v":1.1,"r":0.5675,"z":-0.4053},{"part":"b","v":1.1,"r":0.5681,"z":-0.4158},{"part":"b","v":1.1,"r":0.5767,"z":-0.4306},{"part":"b","v":1.1,"r":0.5767,"z":-0.4395},{"part":"b","v":1.1,"r":0.5724,"z":-0.4485},{"part":"b","v":1.1,"r":0.5632,"z":-0.4569},{"part":"b","v":1.1,"r":0.5508,"z":-0.4669},{"part":"b","v":1.1,"r":0.54,"z":-0.4727},{"part":"b","v":1.1,"r":0.5292,"z":-0.479},{"part":"b","v":1.1,"r":0.52,"z":-0.48},{"part":"b","v":1.1,"r":0.5011,"z":-0.479},{"part":"b","v":1.1,"r":0.4973,"z":-0.4806},{"part":"b","v":1.1,"r":0.4821,"z":-0.4763},{"part":"b","v":1.1,"r":0.4713,"z":-0.4727},
{"part":"b2","v":1.1,"r":0.4886,"z":-0.3369},{"part":"b2","v":1.1,"r":0.4946,"z":-0.3353},{"part":"b2","v":1.1,"r":0.4994,"z":-0.3406},{"part":"b2","v":1.1,"r":0.5011,"z":-0.349},{"part":"b2","v":1.1,"r":0.5075,"z":-0.3537},{"part":"b2","v":1.1,"r":0.5119,"z":-0.3621},{"part":"b2","v":1.1,"r":0.5156,"z":-0.3727},{"part":"b2","v":1.1,"r":0.5173,"z":-0.3827},{"part":"b2","v":1.1,"r":0.5265,"z":-0.3885},{"part":"b2","v":1.1,"r":0.5281,"z":-0.3974},{"part":"b2","v":1.1,"r":0.5324,"z":-0.4079},{"part":"b2","v":1.1,"r":0.5297,"z":-0.4132},{"part":"b2","v":1.1,"r":0.5227,"z":-0.4174},{"part":"b2","v":1.1,"r":0.5146,"z":-0.4263},{"part":"b2","v":1.1,"r":0.5064,"z":-0.4316},{"part":"b2","v":1.1,"r":0.4994,"z":-0.4353},{"part":"b2","v":1.1,"r":0.4919,"z":-0.4332},{"part":"b2","v":1.1,"r":0.4946,"z":-0.4279},{"part":"b2","v":1.1,"r":0.5021,"z":-0.4195},{"part":"b2","v":1.1,"r":0.5,"z":-0.4148},{"part":"b2","v":1.1,"r":0.5048,"z":-0.4053},{"part":"b2","v":1.1,"r":0.5048,"z":-0.4016},{"part":"b2","v":1.1,"r":0.5075,"z":-0.399},{"part":"b2","v":1.1,"r":0.5075,"z":-0.3858},{"part":"b2","v":1.1,"r":0.5048,"z":-0.3842},{"part":"b2","v":1.1,"r":0.5048,"z":-0.3737},{"part":"b2","v":1.1,"r":0.5005,"z":-0.3685},{"part":"b2","v":1.1,"r":0.4994,"z":-0.3616},{"part":"b2","v":1.1,"r":0.4956,"z":-0.3606},{"part":"b2","v":1.1,"r":0.4929,"z":-0.3527},{"part":"b2","v":1.1,"r":0.4919,"z":-0.3458},{"part":"b2","v":1.1,"r":0.4886,"z":-0.3448},{"part":"b2","v":1.1,"r":0.4886,"z":-0.3406},
{"part":"b3","v":1.1,"r":0.4756,"z":-0.3169},{"part":"b3","v":1.1,"r":0.4805,"z":-0.3142},{"part":"b3","v":1.1,"r":0.4859,"z":-0.3174},{"part":"b3","v":1.1,"r":0.4875,"z":-0.3248},{"part":"b3","v":1.1,"r":0.4859,"z":-0.33},{"part":"b3","v":1.1,"r":0.481,"z":-0.3253},{"part":"b3","v":1.1,"r":0.4767,"z":-0.3211},
{"part":"b4","v":1.1,"r":0.5848,"z":-0.4632},{"part":"b4","v":1.1,"r":0.5892,"z":-0.4616},{"part":"b4","v":1.1,"r":0.5956,"z":-0.4685},{"part":"b4","v":1.1,"r":0.6048,"z":-0.4879},{"part":"b4","v":1.1,"r":0.6108,"z":-0.509},{"part":"b4","v":1.1,"r":0.6162,"z":-0.5405},{"part":"b4","v":1.1,"r":0.6183,"z":-0.55},{"part":"b4","v":1.1,"r":0.6129,"z":-0.55},{"part":"b4","v":1.1,"r":0.6048,"z":-0.5421},{"part":"b4","v":1.1,"r":0.5973,"z":-0.5316},{"part":"b4","v":1.1,"r":0.5902,"z":-0.5121},{"part":"b4","v":1.1,"r":0.5864,"z":-0.4932},{"part":"b4","v":1.1,"r":0.5848,"z":-0.4737},
{"part":"c4","v":1.4,"r":0.5875,"z":-0.4674},{"part":"c4","v":1.4,"r":0.5913,"z":-0.4669},{"part":"c4","v":1.4,"r":0.6011,"z":-0.4827},{"part":"c4","v":1.4,"r":0.6075,"z":-0.5},{"part":"c4","v":1.4,"r":0.6119,"z":-0.5227},{"part":"c4","v":1.4,"r":0.6146,"z":-0.5437},{"part":"c4","v":1.4,"r":0.6091,"z":-0.5437},{"part":"c4","v":1.4,"r":0.6011,"z":-0.53},{"part":"c4","v":1.4,"r":0.594,"z":-0.5106},{"part":"c4","v":1.4,"r":0.5892,"z":-0.4911},
{"part":"j","v":1.74,"r":0.4756,"z":-0.4669},{"part":"j","v":1.74,"r":0.4838,"z":-0.459},{"part":"j","v":1.74,"r":0.4984,"z":-0.4474},{"part":"j","v":1.74,"r":0.5038,"z":-0.4395},{"part":"j","v":1.74,"r":0.5216,"z":-0.4263},{"part":"j","v":1.74,"r":0.5362,"z":-0.4142},{"part":"j","v":1.74,"r":0.5486,"z":-0.4063},{"part":"j","v":1.74,"r":0.5562,"z":-0.4027},{"part":"j","v":1.74,"r":0.5632,"z":-0.4016},{"part":"j","v":1.74,"r":0.5659,"z":-0.4063},{"part":"j","v":1.74,"r":0.5648,"z":-0.4148},{"part":"j","v":1.74,"r":0.5724,"z":-0.4274},{"part":"j","v":1.74,"r":0.5756,"z":-0.4353},{"part":"j","v":1.74,"r":0.5648,"z":-0.4432},{"part":"j","v":1.74,"r":0.5562,"z":-0.4485},{"part":"j","v":1.74,"r":0.5378,"z":-0.459},{"part":"j","v":1.74,"r":0.52,"z":-0.4669},{"part":"j","v":1.74,"r":0.5,"z":-0.4727},{"part":"j","v":1.74,"r":0.4838,"z":-0.4737},{"part":"j","v":1.74,"r":0.4767,"z":-0.4711},
{"part":"j2","v":1.74,"r":0.4892,"z":-0.3385},{"part":"j2","v":1.74,"r":0.4946,"z":-0.3369},{"part":"j2","v":1.74,"r":0.4984,"z":-0.3411},{"part":"j2","v":1.74,"r":0.4994,"z":-0.35},{"part":"j2","v":1.74,"r":0.5064,"z":-0.3553},{"part":"j2","v":1.74,"r":0.5102,"z":-0.3642},{"part":"j2","v":1.74,"r":0.5135,"z":-0.3748},{"part":"j2","v":1.74,"r":0.5162,"z":-0.3853},{"part":"j2","v":1.74,"r":0.52,"z":-0.3921},{"part":"j2","v":1.74,"r":0.5243,"z":-0.4011},{"part":"j2","v":1.74,"r":0.5265,"z":-0.4079},{"part":"j2","v":1.74,"r":0.521,"z":-0.4169},{"part":"j2","v":1.74,"r":0.5108,"z":-0.4253},{"part":"j2","v":1.74,"r":0.5027,"z":-0.4306},{"part":"j2","v":1.74,"r":0.5,"z":-0.4279},{"part":"j2","v":1.74,"r":0.5038,"z":-0.4169},{"part":"j2","v":1.74,"r":0.5064,"z":-0.4063},{"part":"j2","v":1.74,"r":0.5048,"z":-0.4027},{"part":"j2","v":1.74,"r":0.507,"z":-0.3974},{"part":"j2","v":1.74,"r":0.5064,"z":-0.3869},{"part":"j2","v":1.74,"r":0.5048,"z":-0.3832},{"part":"j2","v":1.74,"r":0.5048,"z":-0.3727},{"part":"j2","v":1.74,"r":0.5,"z":-0.3695},{"part":"j2","v":1.74,"r":0.4994,"z":-0.3621},{"part":"j2","v":1.74,"r":0.4956,"z":-0.3606},{"part":"j2","v":1.74,"r":0.494,"z":-0.3527},{"part":"j2","v":1.74,"r":0.4902,"z":-0.3448},
{"part":"j3","v":1.74,"r":0.4783,"z":-0.3174},{"part":"j3","v":1.74,"r":0.4832,"z":-0.3158},{"part":"j3","v":1.74,"r":0.4859,"z":-0.32},{"part":"j3","v":1.74,"r":0.4848,"z":-0.3253},{"part":"j3","v":1.74,"r":0.4805,"z":-0.3237},
{"part":"j4","v":1.74,"r":0.5913,"z":-0.4748},{"part":"j4","v":1.74,"r":0.5946,"z":-0.4721},{"part":"j4","v":1.74,"r":0.6011,"z":-0.4827},{"part":"j4","v":1.74,"r":0.6054,"z":-0.4963},{"part":"j4","v":1.74,"r":0.6081,"z":-0.5158},{"part":"j4","v":1.74,"r":0.6081,"z":-0.5306},{"part":"j4","v":1.74,"r":0.6048,"z":-0.5263},{"part":"j4","v":1.74,"r":0.5999,"z":-0.5106},{"part":"j4","v":1.74,"r":0.5946,"z":-0.4911},
{"part":"m","v":2.3,"r":0.4778,"z":-0.4674},{"part":"m","v":2.3,"r":0.4875,"z":-0.459},{"part":"m","v":2.3,"r":0.5,"z":-0.45},{"part":"m","v":2.3,"r":0.5146,"z":-0.4369},{"part":"m","v":2.3,"r":0.5362,"z":-0.4174},{"part":"m","v":2.3,"r":0.5508,"z":-0.4069},{"part":"m","v":2.3,"r":0.5621,"z":-0.4027},{"part":"m","v":2.3,"r":0.5643,"z":-0.4142},{"part":"m","v":2.3,"r":0.5702,"z":-0.4279},{"part":"m","v":2.3,"r":0.5697,"z":-0.4332},{"part":"m","v":2.3,"r":0.5605,"z":-0.4379},{"part":"m","v":2.3,"r":0.5454,"z":-0.4463},{"part":"m","v":2.3,"r":0.5324,"z":-0.4516},{"part":"m","v":2.3,"r":0.5162,"z":-0.459},{"part":"m","v":2.3,"r":0.5021,"z":-0.4658},{"part":"m","v":2.3,"r":0.4838,"z":-0.4721},{"part":"m","v":2.3,"r":0.4783,"z":-0.4711},
{"part":"m2","v":2.3,"r":0.4902,"z":-0.3406},{"part":"m2","v":2.3,"r":0.4946,"z":-0.3385},{"part":"m2","v":2.3,"r":0.4973,"z":-0.3437},{"part":"m2","v":2.3,"r":0.4984,"z":-0.3516},{"part":"m2","v":2.3,"r":0.5054,"z":-0.3563},{"part":"m2","v":2.3,"r":0.5086,"z":-0.3658},{"part":"m2","v":2.3,"r":0.5119,"z":-0.3748},{"part":"m2","v":2.3,"r":0.5146,"z":-0.3869},{"part":"m2","v":2.3,"r":0.5183,"z":-0.3937},{"part":"m2","v":2.3,"r":0.5227,"z":-0.4027},{"part":"m2","v":2.3,"r":0.5227,"z":-0.4042},{"part":"m2","v":2.3,"r":0.521,"z":-0.4116},{"part":"m2","v":2.3,"r":0.5102,"z":-0.4237},{"part":"m2","v":2.3,"r":0.5027,"z":-0.4279},{"part":"m2","v":2.3,"r":0.5038,"z":-0.4184},{"part":"m2","v":2.3,"r":0.5075,"z":-0.4063},{"part":"m2","v":2.3,"r":0.5075,"z":-0.3958},{"part":"m2","v":2.3,"r":0.5064,"z":-0.3832},{"part":"m2","v":2.3,"r":0.5054,"z":-0.3727},{"part":"m2","v":2.3,"r":0.5011,"z":-0.3658},{"part":"m2","v":2.3,"r":0.4973,"z":-0.3553},{"part":"m2","v":2.3,"r":0.4946,"z":-0.3516},{"part":"m2","v":2.3,"r":0.4919,"z":-0.3458},
{"part":"m3","v":2.3,"r":0.4805,"z":-0.32},{"part":"m3","v":2.3,"r":0.4832,"z":-0.3206},{"part":"m3","v":2.3,"r":0.4838,"z":-0.3237},{"part":"m3","v":2.3,"r":0.4816,"z":-0.3232},
{"part":"m4","v":2.3,"r":0.5973,"z":-0.4879},{"part":"m4","v":2.3,"r":0.5999,"z":-0.4869},{"part":"m4","v":2.3,"r":0.6011,"z":-0.4911},{"part":"m4","v":2.3,"r":0.5994,"z":-0.4958},
{"part":"q","v":2.85,"r":0.4794,"z":-0.4674},{"part":"q","v":2.85,"r":0.4875,"z":-0.4621},{"part":"q","v":2.85,"r":0.5,"z":-0.4527},{"part":"q","v":2.85,"r":0.5146,"z":-0.4411},{"part":"q","v":2.85,"r":0.5362,"z":-0.42},{"part":"q","v":2.85,"r":0.5508,"z":-0.409},{"part":"q","v":2.85,"r":0.5616,"z":-0.4037},{"part":"q","v":2.85,"r":0.5632,"z":-0.4148},{"part":"q","v":2.85,"r":0.567,"z":-0.4274},{"part":"q","v":2.85,"r":0.5686,"z":-0.4306},{"part":"q","v":2.85,"r":0.5562,"z":-0.4342},{"part":"q","v":2.85,"r":0.54,"z":-0.4432},{"part":"q","v":2.85,"r":0.5254,"z":-0.449},{"part":"q","v":2.85,"r":0.5108,"z":-0.4564},{"part":"q","v":2.85,"r":0.4946,"z":-0.4658},{"part":"q","v":2.85,"r":0.4832,"z":-0.4684},{"part":"q","v":2.85,"r":0.4794,"z":-0.47},
{"part":"q2","v":2.85,"r":0.4929,"z":-0.3395},{"part":"q2","v":2.85,"r":0.4956,"z":-0.3411},{"part":"q2","v":2.85,"r":0.4973,"z":-0.3474},{"part":"q2","v":2.85,"r":0.4994,"z":-0.3527},{"part":"q2","v":2.85,"r":0.5054,"z":-0.3579},{"part":"q2","v":2.85,"r":0.5075,"z":-0.3658},{"part":"q2","v":2.85,"r":0.5108,"z":-0.3763},{"part":"q2","v":2.85,"r":0.5135,"z":-0.3869},{"part":"q2","v":2.85,"r":0.5173,"z":-0.3948},{"part":"q2","v":2.85,"r":0.521,"z":-0.4027},{"part":"q2","v":2.85,"r":0.521,"z":-0.4095},{"part":"q2","v":2.85,"r":0.5173,"z":-0.4158},{"part":"q2","v":2.85,"r":0.5092,"z":-0.4237},{"part":"q2","v":2.85,"r":0.5048,"z":-0.4253},{"part":"q2","v":2.85,"r":0.507,"z":-0.4158},{"part":"q2","v":2.85,"r":0.5092,"z":-0.4053},{"part":"q2","v":2.85,"r":0.5092,"z":-0.3948},{"part":"q2","v":2.85,"r":0.5075,"z":-0.3842},{"part":"q2","v":2.85,"r":0.5064,"z":-0.3737},{"part":"q2","v":2.85,"r":0.5027,"z":-0.3648},{"part":"q2","v":2.85,"r":0.4984,"z":-0.3563},{"part":"q2","v":2.85,"r":0.4946,"z":-0.35},{"part":"q2","v":2.85,"r":0.4919,"z":-0.3448},
{"part":"s","v":3.4,"r":0.4984,"z":-0.4542},{"part":"s","v":3.4,"r":0.5146,"z":-0.4437},{"part":"s","v":3.4,"r":0.5237,"z":-0.4327},{"part":"s","v":3.4,"r":0.5362,"z":-0.4221},{"part":"s","v":3.4,"r":0.5508,"z":-0.4106},{"part":"s","v":3.4,"r":0.5605,"z":-0.4042},{"part":"s","v":3.4,"r":0.5605,"z":-0.4148},{"part":"s","v":3.4,"r":0.5648,"z":-0.4263},{"part":"s","v":3.4,"r":0.5632,"z":-0.429},{"part":"s","v":3.4,"r":0.5508,"z":-0.4316},{"part":"s","v":3.4,"r":0.5378,"z":-0.4384},{"part":"s","v":3.4,"r":0.5237,"z":-0.4448},{"part":"s","v":3.4,"r":0.5092,"z":-0.4516},{"part":"s","v":3.4,"r":0.5,"z":-0.4564},
{"part":"u","v":3.96,"r":0.5011,"z":-0.4537},{"part":"u","v":3.96,"r":0.5146,"z":-0.4432},{"part":"u","v":3.96,"r":0.527,"z":-0.4316},{"part":"u","v":3.96,"r":0.5373,"z":-0.4237},{"part":"u","v":3.96,"r":0.5524,"z":-0.4095},{"part":"u","v":3.96,"r":0.5605,"z":-0.4042},{"part":"u","v":3.96,"r":0.5594,"z":-0.4148},{"part":"u","v":3.96,"r":0.5632,"z":-0.4237},{"part":"u","v":3.96,"r":0.5524,"z":-0.4274},{"part":"u","v":3.96,"r":0.5378,"z":-0.429},{"part":"u","v":3.96,"r":0.5237,"z":-0.4406},{"part":"u","v":3.96,"r":0.5092,"z":-0.4485},
{"part":"u1","v":3.96,"r":0.4919,"z":-0.3416},{"part":"u1","v":3.96,"r":0.4951,"z":-0.3421},{"part":"u1","v":3.96,"r":0.4962,"z":-0.3474},{"part":"u1","v":3.96,"r":0.4946,"z":-0.35},{"part":"u1","v":3.96,"r":0.4924,"z":-0.3458},
{"part":"u2","v":3.96,"r":0.4984,"z":-0.3569},{"part":"u2","v":3.96,"r":0.5038,"z":-0.3579},{"part":"u2","v":3.96,"r":0.507,"z":-0.3642},{"part":"u2","v":3.96,"r":0.5048,"z":-0.3674},{"part":"u2","v":3.96,"r":0.5016,"z":-0.3658},
{"part":"u3","v":3.96,"r":0.5064,"z":-0.3753},{"part":"u3","v":3.96,"r":0.5108,"z":-0.3753},{"part":"u3","v":3.96,"r":0.513,"z":-0.3832},{"part":"u3","v":3.96,"r":0.5108,"z":-0.3895},{"part":"u3","v":3.96,"r":0.5075,"z":-0.3869},{"part":"u3","v":3.96,"r":0.5064,"z":-0.3816},
{"part":"u4","v":3.96,"r":0.5092,"z":-0.3921},{"part":"u4","v":3.96,"r":0.5146,"z":-0.3895},{"part":"u4","v":3.96,"r":0.5178,"z":-0.3974},{"part":"u4","v":3.96,"r":0.52,"z":-0.4053},{"part":"u4","v":3.96,"r":0.5173,"z":-0.4106},{"part":"u4","v":3.96,"r":0.5119,"z":-0.4174},{"part":"u4","v":3.96,"r":0.5075,"z":-0.4195},{"part":"u4","v":3.96,"r":0.5081,"z":-0.4079},{"part":"u4","v":3.96,"r":0.5102,"z":-0.4},
{"part":"x","v":4.5,"r":0.5378,"z":-0.4253},{"part":"x","v":4.5,"r":0.5486,"z":-0.4132},{"part":"x","v":4.5,"r":0.5562,"z":-0.409},{"part":"x","v":4.5,"r":0.5562,"z":-0.42},{"part":"x","v":4.5,"r":0.5594,"z":-0.4237},{"part":"x","v":4.5,"r":0.5486,"z":-0.4253},
{"part":"x2","v":4.5,"r":0.5108,"z":-0.3948},{"part":"x2","v":4.5,"r":0.5151,"z":-0.3943},{"part":"x2","v":4.5,"r":0.5162,"z":-0.399},{"part":"x2","v":4.5,"r":0.513,"z":-0.4011},
{"part":"x3","v":4.5,"r":0.5016,"z":-0.3595},{"part":"x3","v":4.5,"r":0.5048,"z":-0.3616},{"part":"x3","v":4.5,"r":0.5048,"z":-0.3648},{"part":"x3","v":4.5,"r":0.5027,"z":-0.3637},
{"part":"y","v":5.03,"r":0.5469,"z":-0.4195},{"part":"y","v":5.03,"r":0.5513,"z":-0.4174},{"part":"y","v":5.03,"r":0.5524,"z":-0.4211},{"part":"y","v":5.03,"r":0.548,"z":-0.4216}
],
"walls":[
{"part":"w1","kind":"wall","r":0.4692,"z":-0.3016},{"part":"w1","kind":"wall","r":0.4746,"z":-0.3132},{"part":"w1","kind":"wall","r":0.4854,"z":-0.3306},{"part":"w1","kind":"wall","r":0.5,"z":-0.3616},{"part":"w1","kind":"wall","r":0.5059,"z":-0.3779},{"part":"w1","kind":"wall","r":0.5075,"z":-0.399},{"part":"w1","kind":"wall","r":0.507,"z":-0.4027},{"part":"w1","kind":"wall","r":0.5,"z":-0.4184},{"part":"w1","kind":"wall","r":0.4908,"z":-0.4306},{"part":"w1","kind":"wall","r":0.4675,"z":-0.4542},{"part":"w1","kind":"wall","r":0.454,"z":-0.4684},{"part":"w1","kind":"wall","r":0.4546,"z":-0.4711},{"part":"w1","kind":"wall","r":0.4654,"z":-0.4737},{"part":"w1","kind":"wall","r":0.4978,"z":-0.4827},{"part":"w1","kind":"wall","r":0.5194,"z":-0.4885},{"part":"w1","kind":"wall","r":0.5594,"z":-0.4985},{"part":"w1","kind":"wall","r":0.5627,"z":-0.5016},{"part":"w1","kind":"wall","r":0.5692,"z":-0.5106},{"part":"w1","kind":"wall","r":0.5697,"z":-0.5753},{"part":"w1","kind":"wall","r":0.5719,"z":-0.5753},{"part":"w1","kind":"wall","r":0.601,"z":-0.5932},{"part":"w1","kind":"wall","r":0.6675,"z":-0.5932},{"part":"w1","kind":"wall","r":0.6767,"z":-0.599},
{"part":"w2","kind":"wall","r":0.7308,"z":-0.3627},{"part":"w2","kind":"wall","r":0.6746,"z":-0.3853},{"part":"w2","kind":"wall","r":0.6583,"z":-0.3985},{"part":"w2","kind":"wall","r":0.6405,"z":-0.4095},{"part":"w2","kind":"wall","r":0.6259,"z":-0.4227},{"part":"w2","kind":"wall","r":0.6167,"z":-0.4353},{"part":"w2","kind":"wall","r":0.6124,"z":-0.449},{"part":"w2","kind":"wall","r":0.6124,"z":-0.4669},{"part":"w2","kind":"wall","r":0.6189,"z":-0.5079},{"part":"w2","kind":"wall","r":0.6286,"z":-0.5695},{"part":"w2","kind":"wall","r":0.6589,"z":-0.5653},{"part":"w2","kind":"wall","r":0.6421,"z":-0.4553},{"part":"w2","kind":"wall","r":0.64,"z":-0.4406},{"part":"w2","kind":"wall","r":0.7308,"z":-0.3927},
{"part":"g1","kind":"separatrix","r":0.5086,"z":-0.3016},{"part":"g1","kind":"separatrix","r":0.5556,"z":-0.3906},{"part":"g1","kind":"separatrix","r":0.5654,"z":-0.4079},{"part":"g1","kind":"separatrix","r":0.5735,"z":-0.4184},{"part":"g1","kind":"separatrix","r":0.5827,"z":-0.4342},{"part":"g1","kind":"separatrix","r":0.5919,"z":-0.4553},{"part":"g1","kind":"separatrix","r":0.5989,"z":-0.4674},{"part":"g1","kind":"separatrix","r":0.6081,"z":-0.4853},{"part":"g1","kind":"separatrix","r":0.6178,"z":-0.5042},
{"part":"g2","kind":"separatrix","r":0.4675,"z":-0.4542},{"part":"g2","kind":"separatrix","r":0.5086,"z":-0.4316},{"part":"g2","kind":"separatrix","r":0.5621,"z":-0.4016},{"part":"g2","kind":"separatrix","r":0.587,"z":-0.389},{"part":"g2","kind":"separatrix","r":0.6108,"z":-0.3769},{"part":"g2","kind":"separatrix","r":0.6281,"z":-0.3663},{"part":"g2","kind":"separatrix","r":0.6551,"z":-0.3484},{"part":"g2","kind":"separatrix","r":0.6821,"z":-0.3279},{"part":"g2","kind":"separatrix","r":0.7146,"z":-0.3016},
{"part":"g3","kind":"separatrix","r":0.4978,"z":-0.4827},{"part":"g3","kind":"separatrix","r":0.5194,"z":-0.4811},{"part":"g3","kind":"separatrix","r":0.5324,"z":-0.4832},{"part":"g3","kind":"separatrix","r":0.5465,"z":-0.4895},{"part":"g3","kind":"separatrix","r":0.5648,"z":-0.5011},{"part":"g3","kind":"separatrix","r":0.5789,"z":-0.5148},{"part":"g3","kind":"separatrix","r":0.5935,"z":-0.5342},{"part":"g3","kind":"separatrix","r":0.6059,"z":-0.5606},{"part":"g3","kind":"separatrix","r":0.6173,"z":-0.5932}
],
"bar":[{"v":0,"lo":0,"hi":0.6},{"v":0.6,"lo":0.6,"hi":0.72},{"v":0.72,"lo":0.72,"hi":0.84},{"v":0.84,"lo":0.84,"hi":0.96},{"v":0.96,"lo":0.96,"hi":1.08},{"v":1.08,"lo":1.08,"hi":1.2},{"v":1.2,"lo":1.2,"hi":1.32},{"v":1.32,"lo":1.32,"hi":1.44},{"v":1.44,"lo":1.44,"hi":1.56},{"v":1.56,"lo":1.56,"hi":1.68},{"v":1.68,"lo":1.68,"hi":1.8},{"v":1.8,"lo":1.8,"hi":1.92},{"v":1.92,"lo":1.92,"hi":2.04},{"v":2.04,"lo":2.04,"hi":2.16},{"v":2.16,"lo":2.16,"hi":2.28},{"v":2.28,"lo":2.28,"hi":2.4},{"v":2.4,"lo":2.4,"hi":2.52},{"v":2.52,"lo":2.52,"hi":2.64},{"v":2.64,"lo":2.64,"hi":2.76},{"v":2.76,"lo":2.76,"hi":2.88},{"v":2.88,"lo":2.88,"hi":3.0},{"v":3.0,"lo":3.0,"hi":3.12},{"v":3.12,"lo":3.12,"hi":3.24},{"v":3.24,"lo":3.24,"hi":3.36},{"v":3.36,"lo":3.36,"hi":3.48},{"v":3.48,"lo":3.48,"hi":3.6},{"v":3.6,"lo":3.6,"hi":3.72},{"v":3.72,"lo":3.72,"hi":3.84},{"v":3.84,"lo":3.84,"hi":3.96},{"v":3.96,"lo":3.96,"hi":4.08},{"v":4.08,"lo":4.08,"hi":4.2},{"v":4.2,"lo":4.2,"hi":4.32},{"v":4.32,"lo":4.32,"hi":4.44},{"v":4.44,"lo":4.44,"hi":4.56},{"v":4.56,"lo":4.56,"hi":4.68},{"v":4.68,"lo":4.68,"hi":4.8},{"v":4.8,"lo":4.8,"hi":4.92},{"v":4.92,"lo":4.92,"hi":5.04},{"v":5.04,"lo":5.04,"hi":5.16},{"v":5.16,"lo":5.16,"hi":5.28},{"v":5.28,"lo":5.28,"hi":5.4},{"v":5.4,"lo":5.4,"hi":5.52},{"v":5.52,"lo":5.52,"hi":5.64},{"v":5.64,"lo":5.64,"hi":5.76},{"v":5.76,"lo":5.76,"hi":5.88},{"v":5.88,"lo":5.88,"hi":6.0}]
},
"vconcat":[{"hconcat":[
{"width":522,"height":565,"layer":[
{"data":{"name":"left"},"mark":{"type":"line","filled":true,"strokeWidth":0,"clip":true,"interpolate":"cardinal-closed","tension":0.4},"encoding":{"x":{"field":"r","type":"quantitative","scale":{"domain":[0.4492,0.7314],"nice":false,"zero":false},"axis":{"values":[0.5,0.55,0.6,0.65,0.7],"labelExpr":"abs(datum.value-0.5)<0.001?'0.5':abs(datum.value-0.6)<0.001?'0.6':''"}},"y":{"field":"z","type":"quantitative","scale":{"domain":[-0.59895,-0.30158],"nice":false,"zero":false},"axis":{"values":[-0.35,-0.4,-0.45,-0.5,-0.55],"labelPadding":3,"labelExpr":"abs(datum.value+0.4)<0.001?'-0.4':abs(datum.value+0.5)<0.001?'-0.5':''"}},"order":{"value":null},"detail":{"field":"part"},"fill":{"field":"v","type":"quantitative","legend":null,"scale":{"domain":[0,0.59,0.6,0.8,1.1,1.4,1.74,2.3,2.85,3.4,3.96,4.5,5.03,5.56,6],"range":["#ffffff","#ffffff","#1c0020","#4a0070","#5a00c8","#3a00f0","#0000ff","#0078ff","#00ffff","#00ff88","#00ff00","#90ff00","#ffff00","#ff8000","#ff2000"]}}}},
{"data":{"name":"walls"},"transform":[{"filter":"datum.kind=='separatrix'"}],"mark":{"type":"line","stroke":"#f5c518","strokeWidth":1.6,"clip":true,"interpolate":"catmull-rom"},"encoding":{"x":{"field":"r","type":"quantitative"},"y":{"field":"z","type":"quantitative"},"order":{"value":null},"detail":{"field":"part"}}},
{"data":{"name":"walls"},"transform":[{"filter":"datum.kind=='wall'"}],"mark":{"type":"line","stroke":"#111","strokeWidth":1.3,"clip":true},"encoding":{"x":{"field":"r","type":"quantitative"},"y":{"field":"z","type":"quantitative"},"order":{"value":null},"detail":{"field":"part"}}},
{"data":{"values":[{"t":"D","r":0.5513,"z":-0.3221},{"t":"FROM TOROIDAL","r":0.5756,"z":-0.3221},{"t":"CAMERA","r":0.6481,"z":-0.3432}]},"mark":{"type":"text","align":"left","baseline":"alphabetic","fontSize":33,"font":"Liberation Sans","color":"#000"},"encoding":{"x":{"field":"r","type":"quantitative"},"y":{"field":"z","type":"quantitative"},"text":{"field":"t"}}},
{"data":{"values":[{"t":"γ","r":0.5632,"z":-0.3279}]},"mark":{"type":"text","align":"left","baseline":"alphabetic","fontSize":30,"font":"Liberation Serif","color":"#000"},"encoding":{"x":{"field":"r","type":"quantitative"},"y":{"field":"z","type":"quantitative"},"text":{"field":"t"}}},
{"data":{"values":[{"z":-0.30158}]},"mark":{"type":"rule","strokeWidth":3,"color":"#000"},"encoding":{"y":{"field":"z","type":"quantitative"}}},
{"data":{"values":[{"r":0.7314}]},"mark":{"type":"rule","strokeWidth":3,"color":"#000"},"encoding":{"x":{"field":"r","type":"quantitative"}}}
]},
{"width":515,"height":565,"layer":[
{"data":{"name":"right"},"mark":{"type":"line","filled":true,"strokeWidth":0,"clip":true,"interpolate":"cardinal-closed","tension":0.4},"encoding":{"x":{"field":"r","type":"quantitative","scale":{"domain":[0.44865,0.72703],"nice":false,"zero":false},"axis":{"values":[0.5,0.55,0.6,0.65,0.7],"labelExpr":"abs(datum.value-0.5)<0.001?'0.5':abs(datum.value-0.6)<0.001?'0.6':''"}},"y":{"field":"z","type":"quantitative","scale":{"domain":[-0.59895,-0.30158],"nice":false,"zero":false},"axis":{"ticks":false,"labels":false}},"order":{"value":null},"detail":{"field":"part"},"fill":{"field":"v","type":"quantitative","legend":null,"scale":{"domain":[0,0.59,0.6,0.8,1.1,1.4,1.74,2.3,2.85,3.4,3.96,4.5,5.03,5.56,6],"range":["#ffffff","#ffffff","#1c0020","#4a0070","#5a00c8","#3a00f0","#0000ff","#0078ff","#00ffff","#00ff88","#00ff00","#90ff00","#ffff00","#ff8000","#ff2000"]}}}},
{"data":{"name":"walls"},"transform":[{"filter":"datum.kind=='separatrix'"}],"mark":{"type":"line","stroke":"#f5c518","strokeWidth":1.6,"clip":true,"interpolate":"catmull-rom"},"encoding":{"x":{"field":"r","type":"quantitative"},"y":{"field":"z","type":"quantitative"},"order":{"value":null},"detail":{"field":"part"}}},
{"data":{"name":"walls"},"transform":[{"filter":"datum.kind=='wall'"}],"mark":{"type":"line","stroke":"#111","strokeWidth":1.3,"clip":true},"encoding":{"x":{"field":"r","type":"quantitative"},"y":{"field":"z","type":"quantitative"},"order":{"value":null},"detail":{"field":"part"}}},
{"data":{"values":[{"t":"D","r":0.5454,"z":-0.3221},{"t":"FROM CODE","r":0.5708,"z":-0.3221}]},"mark":{"type":"text","align":"left","baseline":"alphabetic","fontSize":33,"font":"Liberation Sans","color":"#000"},"encoding":{"x":{"field":"r","type":"quantitative"},"y":{"field":"z","type":"quantitative"},"text":{"field":"t"}}},
{"data":{"values":[{"t":"γ","r":0.5572,"z":-0.3279}]},"mark":{"type":"text","align":"left","baseline":"alphabetic","fontSize":30,"font":"Liberation Serif","color":"#000"},"encoding":{"x":{"field":"r","type":"quantitative"},"y":{"field":"z","type":"quantitative"},"text":{"field":"t"}}},
{"data":{"values":[{"t":"×","r":0.6838,"z":-0.3221}]},"mark":{"type":"text","align":"left","baseline":"alphabetic","fontSize":31,"font":"Liberation Sans","color":"#ee1111"},"encoding":{"x":{"field":"r","type":"quantitative"},"y":{"field":"z","type":"quantitative"},"text":{"field":"t"}}},
{"data":{"values":[{"t":"0.4","r":0.6999,"z":-0.3221}]},"mark":{"type":"text","align":"left","baseline":"alphabetic","fontSize":32,"fontWeight":"bold","font":"Liberation Sans","color":"#ee0000"},"encoding":{"x":{"field":"r","type":"quantitative"},"y":{"field":"z","type":"quantitative"},"text":{"field":"t"}}},
{"data":{"values":[{"z":-0.30158}]},"mark":{"type":"rule","strokeWidth":3,"color":"#000"},"encoding":{"y":{"field":"z","type":"quantitative"}}}
]}
],"spacing":19},
{"hconcat":[
{"width":261,"height":49,"data":{"values":[]},"mark":{"type":"rule","opacity":0},"encoding":{}},
{"width":533,"height":49,"view":{"stroke":"#000","strokeWidth":3},"layer":[
{"data":{"name":"bar"},"mark":{"type":"rect"},"encoding":{"x":{"field":"lo","type":"quantitative","scale":{"domain":[0,6],"nice":false},"axis":{"values":[0,1.5,3,4.5,6],"format":".1f","labelFontSize":29,"domainWidth":2,"tickWidth":2,"tickSize":7,"labelPadding":11}},"x2":{"field":"hi"},"fill":{"field":"v","type":"quantitative","legend":null,"scale":{"domain":[0,0.59,0.6,0.8,1.1,1.4,1.74,2.3,2.85,3.4,3.96,4.5,5.03,5.56,6],"range":["#ffffff","#ffffff","#1c0020","#4a0070","#5a00c8","#3a00f0","#0000ff","#0078ff","#00ffff","#00ff88","#00ff00","#90ff00","#ffff00","#ff8000","#ff2000"]}}}},
{"data":{"values":[{"t":"D","lo":2.09},{"t":"(kW m","lo":2.612},{"t":")","lo":3.94}]},"mark":{"type":"text","align":"left","baseline":"alphabetic","fontSize":30,"dy":119,"font":"Liberation Sans","color":"#000"},"encoding":{"x":{"field":"lo","type":"quantitative"},"text":{"field":"t"}}},
{"data":{"values":[{"t":"γ","lo":2.33}]},"mark":{"type":"text","align":"left","baseline":"alphabetic","fontSize":24,"dy":125,"font":"Liberation Serif","color":"#000"},"encoding":{"x":{"field":"lo","type":"quantitative"},"text":{"field":"t"}}},
{"data":{"values":[{"t":"-3","lo":3.66}]},"mark":{"type":"text","align":"left","baseline":"alphabetic","fontSize":24,"dy":107,"font":"Liberation Sans","color":"#000"},"encoding":{"x":{"field":"lo","type":"quantitative"},"text":{"field":"t"}}}
]}
],"spacing":0}
],"spacing":24}
